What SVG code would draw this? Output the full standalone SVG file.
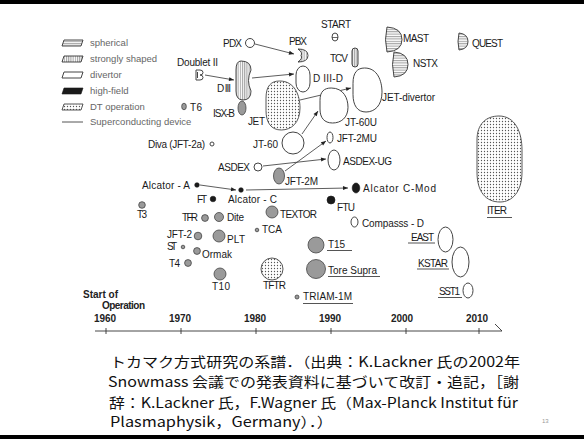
<svg xmlns="http://www.w3.org/2000/svg" width="584" height="439" viewBox="0 0 584 439">
<style>
.lb{font-family:"Liberation Sans",Arial,sans-serif;font-size:10px;fill:#1a1a1a}
.lg{font-family:"Liberation Sans",Arial,sans-serif;font-size:9.5px;fill:#666}
.yr{font-family:"Liberation Sans",Arial,sans-serif;font-size:10px;font-weight:bold;fill:#222;text-anchor:middle}
.cap{font-family:"Noto Sans CJK JP","Noto Sans",sans-serif;font-size:14px;fill:#111}
.gc{fill:#9a9a9a;stroke:#444;stroke-width:0.8}
.bk{fill:#1a1a1a;stroke:#1a1a1a;stroke-width:0.6}
.ol{fill:#fff;stroke:#444;stroke-width:1}
.hh{fill:url(#hh);stroke:#333;stroke-width:0.9}
.hv{fill:url(#hv);stroke:#333;stroke-width:0.9}
.dt{fill:url(#dots);stroke:#444;stroke-width:0.9}
.ul{stroke:#555;stroke-width:1}
.cn{stroke:#333;stroke-width:0.8;fill:none}
</style>
<defs>
<pattern id="hh" width="4" height="2.4" patternUnits="userSpaceOnUse"><rect width="4" height="2.4" fill="#fff"/><line x1="0" y1="0.6" x2="4" y2="0.6" stroke="#444" stroke-width="0.6"/></pattern>
<pattern id="hv" width="2.2" height="4" patternUnits="userSpaceOnUse"><rect width="2.2" height="4" fill="#fff"/><line x1="0.6" y1="0" x2="0.6" y2="4" stroke="#444" stroke-width="0.6"/></pattern>
<pattern id="dots" width="3" height="3" patternUnits="userSpaceOnUse"><rect width="3" height="3" fill="#fff"/><circle cx="1.5" cy="1.5" r="0.65" fill="#555"/></pattern>
<marker id="ah" viewBox="0 0 10 10" refX="10" refY="5" markerWidth="6" markerHeight="5" orient="auto" markerUnits="userSpaceOnUse"><path d="M0,1 L10,5 L0,9 Z" fill="#222"/></marker>
</defs>
<rect width="584" height="439" fill="#fff"/>
<rect x="0" y="0" width="584" height="4" fill="#000"/>
<rect x="0" y="435" width="584" height="4" fill="#000"/>

<g id="legend">
<polygon class="hh" points="64,40 83,40 81,46 62,46"/>
<text class="lg" x="90" y="46">spherical</text>
<polygon class="hv" points="64,56 83,56 81,62 62,62"/>
<text class="lg" x="90" y="62">strongly shaped</text>
<polygon class="ol" points="64,72 83,72 81,78 62,78"/>
<text class="lg" x="90" y="78">divertor</text>
<polygon class="bk" points="64,88 83,88 81,94 62,94"/>
<text class="lg" x="90" y="94">high-field</text>
<polygon class="dt" points="64,104 83,104 81,110 62,110"/>
<text class="lg" x="90" y="110">DT operation</text>
<line x1="62" y1="122" x2="83" y2="122" stroke="#555" stroke-width="1"/>
<text class="lg" x="90" y="125">Superconducting device</text>
</g>

<g id="connectors">
<line class="cn" x1="205" y1="75" x2="234" y2="80" marker-end="url(#ah)"/>
<line class="cn" x1="255" y1="44" x2="294" y2="54" marker-end="url(#ah)"/>
<line class="cn" x1="252" y1="78" x2="294" y2="74" marker-end="url(#ah)"/>
<line class="cn" x1="300" y1="100" x2="351" y2="88" marker-end="url(#ah)"/>
<line class="cn" x1="302" y1="134" x2="318" y2="111" marker-end="url(#ah)"/>
<line class="cn" x1="285" y1="171" x2="326" y2="141" marker-end="url(#ah)"/>
<line class="cn" x1="263" y1="166" x2="326" y2="159" marker-end="url(#ah)"/>
<line class="cn" x1="200" y1="185" x2="236" y2="190" marker-end="url(#ah)"/>
<line class="cn" x1="246" y1="190" x2="348" y2="188" marker-end="url(#ah)"/>
</g>

<g id="PDX"><circle class="ol" cx="250" cy="43" r="4.5"/><text class="lb" x="223" y="47" textLength="19">PDX</text></g>
<g id="PBX"><path class="hv" d="M298,49 Q308,49 308,55.5 Q308,62 298,62 Q303,58.5 301,55.5 Q303,52.5 298,49 Z"/><text class="lb" x="289" y="45" textLength="18">PBX</text></g>
<g id="START"><ellipse class="ol" cx="335" cy="37" rx="3" ry="4"/><line x1="332" y1="37.5" x2="338" y2="37.5" stroke="#444" stroke-width="0.8"/><text class="lb" x="321" y="28" textLength="30">START</text></g>
<g id="TCV"><rect class="hv" x="352" y="48" width="6" height="19" rx="3"/><text class="lb" x="330" y="62" textLength="18">TCV</text></g>
<g id="MAST"><path class="hh" d="M387,27 Q402,28 402,39.5 Q402,51 387,52 Q384,39.5 387,27 Z"/><text class="lb" x="403" y="42" textLength="26">MAST</text></g>
<g id="NSTX"><path class="hh" d="M394,52 Q408,53 408,64.5 Q408,76 394,77 Q391,64.5 394,52 Z"/><text class="lb" x="413" y="67" textLength="25">NSTX</text></g>
<g id="QUEST"><path class="hh" d="M459,33 Q468,34 468,41.5 Q468,49 459,50 Q457,41.5 459,33 Z"/><text class="lb" x="472" y="47" textLength="31">QUEST</text></g>
<g id="DoubletII"><path class="ol" d="M196,70 L200,70 Q203,70 203,72.5 Q203,75 200,75 Q203,75 203,77.5 Q203,80 200,80 L196,80 Z M197.5,72 L197.5,78"/><text class="lb" x="177" y="66" textLength="41">Doublet II</text></g>
<g id="DIII"><path class="hv" d="M241,61 Q251,61 251,70 Q246,80.5 251,91 Q251,100 243,100 Q236,100 236,91 L236,70 Q236,61 241,61 Z"/><text class="lb" x="217" y="92" textLength="14">D III</text></g>
<g id="DIII-D"><rect class="ol" x="296" y="66" width="14" height="26" rx="7" ry="9"/><text class="lb" x="313" y="82" textLength="30">D III-D</text></g>
<g id="T6"><ellipse class="gc" cx="184" cy="106.5" rx="2.3" ry="3.3"/><text class="lb" x="190" y="111" textLength="12">T6</text></g>
<g id="ISX-B"><ellipse class="gc" cx="242" cy="108" rx="4" ry="7"/><text class="lb" x="213" y="117" textLength="22">ISX-B</text></g>
<g id="JET"><path class="dt" d="M279.6,81 C294.9,81 300,95.7 300,107.95 C300,122.65 291.5,130 281.3,130 C271.1,130 266,122.65 266,110.4 L266,98.15 C266,85.9 271.1,81 279.6,81 Z"/><text class="lb" x="248" y="125" textLength="17">JET</text></g>
<g id="JET-divertor"><path class="ol" d="M364.6,68 C377.65,68 382,81.2 382,92.2 C382,105.4 374.75,112 366.05,112 C357.35,112 353,105.4 353,94.4 L353,83.4 C353,72.4 357.35,68 364.6,68 Z"/><text class="lb" x="382" y="101" textLength="53">JET-divertor</text></g>
<g id="JT-60U"><path class="ol" d="M331.2,88 C343.8,88 348,98.5 348,107.25 C348,117.75 341,123 332.6,123 C324.2,123 320,117.75 320,109 L320,100.25 C320,91.5 324.2,88 331.2,88 Z"/><text class="lb" x="345" y="126" textLength="32">JT-60U</text></g>
<g id="JT-60"><circle class="ol" cx="293" cy="143" r="11"/><text class="lb" x="253" y="148" textLength="25">JT-60</text></g>
<g id="Diva"><circle class="ol" cx="212" cy="144" r="2"/><text class="lb" x="148" y="148" textLength="57">Diva (JFT-2a)</text></g>
<g id="JFT-2MU"><ellipse class="ol" cx="330" cy="137.5" rx="3" ry="5.5"/><text class="lb" x="337" y="142" textLength="40">JFT-2MU</text></g>
<g id="ASDEX-UG"><ellipse class="ol" cx="334" cy="160" rx="6" ry="10"/><text class="lb" x="343" y="165" textLength="49">ASDEX-UG</text></g>
<g id="ASDEX"><circle class="ol" cx="258" cy="167" r="4"/><text class="lb" x="218" y="171" textLength="32">ASDEX</text></g>
<g id="JFT-2M"><ellipse class="gc" cx="279" cy="176" rx="5.5" ry="8"/><text class="lb" x="285" y="185" textLength="33">JFT-2M</text></g>
<g id="AlcatorA"><circle class="bk" cx="197" cy="185" r="2.3"/><text class="lb" x="142" y="189" textLength="48">Alcator - A</text></g>
<g id="AlcatorC"><circle class="bk" cx="241" cy="190" r="2.3"/><text class="lb" x="228" y="203" textLength="49">Alcator - C</text></g>
<g id="AlcatorCMod"><ellipse class="bk" cx="356" cy="188" rx="3.8" ry="5"/><text class="lb" x="363" y="192" textLength="73">Alcator C-Mod</text></g>
<g id="FT"><circle class="bk" cx="213" cy="199" r="2.8"/><text class="lb" x="197" y="203" textLength="10">FT</text></g>
<g id="FTU"><circle class="bk" cx="331" cy="200" r="4"/><text class="lb" x="337" y="211" textLength="18">FTU</text></g>
<g id="T3"><circle class="gc" cx="142" cy="205" r="3.3"/><text class="lb" x="137" y="218" textLength="10">T3</text></g>
<g id="TFR"><circle class="gc" cx="205" cy="218" r="3.4"/><text class="lb" x="182" y="221" textLength="16">TFR</text></g>
<g id="Dite"><circle class="gc" cx="219" cy="217" r="4.5"/><text class="lb" x="227" y="221" textLength="17">Dite</text></g>
<g id="TEXTOR"><circle class="gc" cx="272" cy="212" r="6"/><text class="lb" x="280" y="218" textLength="37">TEXTOR</text></g>
<g id="TCA"><circle class="gc" cx="257" cy="230" r="1.8"/><text class="lb" x="262" y="233" textLength="20">TCA</text></g>
<g id="CompassD"><ellipse class="ol" cx="354.5" cy="222" rx="3.5" ry="5"/><text class="lb" x="362" y="227" textLength="62">Compasss - D</text></g>
<g id="JFT-2"><circle class="gc" cx="198" cy="236" r="3.8"/><text class="lb" x="167" y="238" textLength="25">JFT-2</text></g>
<g id="PLT"><circle class="gc" cx="219" cy="236" r="6"/><text class="lb" x="227" y="243" textLength="18">PLT</text></g>
<g id="ST"><circle class="gc" cx="183" cy="247" r="1.8"/><text class="lb" x="167" y="250" textLength="10">ST</text></g>
<g id="Ormak"><circle class="gc" cx="197" cy="251" r="3.4"/><text class="lb" x="202" y="258" textLength="30">Ormak</text></g>
<g id="T4"><circle class="gc" cx="188" cy="263" r="3.4"/><text class="lb" x="169" y="267" textLength="11">T4</text></g>
<g id="T10"><circle class="gc" cx="220" cy="274" r="6"/><text class="lb" x="212" y="290" textLength="18">T10</text></g>
<g id="TFTR"><circle class="dt" cx="272" cy="269" r="11"/><text class="lb" x="263" y="289" textLength="23">TFTR</text></g>
<g id="T15"><circle class="gc" cx="316" cy="245" r="8"/><text class="lb" x="328" y="248" textLength="17">T15</text><line class="ul" x1="327" y1="250.5" x2="352" y2="250.5"/></g>
<g id="ToreSupra"><circle class="gc" cx="316" cy="269" r="9.5"/><text class="lb" x="328" y="274" textLength="49">Tore Supra</text><line class="ul" x1="328" y1="276.5" x2="380" y2="276.5"/></g>
<g id="TRIAM-1M"><circle class="gc" cx="297" cy="297" r="2"/><text class="lb" x="303" y="300" textLength="49">TRIAM-1M</text><line class="ul" x1="303" y1="303.5" x2="353" y2="303.5"/></g>
<g id="EAST"><ellipse class="ol" cx="445.5" cy="239.5" rx="7.5" ry="12.5"/><text class="lb" x="411" y="241" textLength="23">EAST</text><line class="ul" x1="408" y1="243" x2="435" y2="243"/></g>
<g id="KSTAR"><ellipse class="ol" cx="460.5" cy="262" rx="8.5" ry="15"/><text class="lb" x="418" y="267" textLength="30">KSTAR</text><line class="ul" x1="417" y1="269" x2="449" y2="269"/></g>
<g id="SST1"><ellipse class="ol" cx="468" cy="290.5" rx="5" ry="7.5"/><text class="lb" x="439" y="295" textLength="21">SST1</text><line class="ul" x1="438" y1="297.5" x2="462" y2="297.5"/></g>
<g id="ITER"><path class="dt" d="M499,116 C515,116 522,132 522,150 L522,172 C522,192 512,202 500,202 C486,202 477,192 477,172 L477,140 C477,124 486,116 499,116 Z"/><text class="lb" x="487" y="214" textLength="20">ITER</text><line class="ul" x1="487" y1="217.5" x2="512" y2="217.5"/></g>

<g id="axis">
<text x="83" y="298" font-family="Liberation Sans, Arial, sans-serif" font-size="10" font-weight="bold" fill="#222" textLength="35">Start of</text>
<text x="102" y="309" font-family="Liberation Sans, Arial, sans-serif" font-size="10" font-weight="bold" fill="#222" textLength="43">Operation</text>
<text class="yr" x="105" y="322">1960</text>
<text class="yr" x="180" y="322">1970</text>
<text class="yr" x="255" y="322">1980</text>
<text class="yr" x="330" y="322">1990</text>
<text class="yr" x="402" y="322">2000</text>
<text class="yr" x="477" y="322">2010</text>
<line x1="95" y1="331" x2="502" y2="331" stroke="#333" stroke-width="0.9"/>
<line x1="495" y1="324" x2="502" y2="331" stroke="#333" stroke-width="0.9"/>
<g stroke="#333" stroke-width="0.9">
<line x1="106" y1="328" x2="106" y2="334"/>
<line x1="181" y1="328" x2="181" y2="334"/>
<line x1="256" y1="328" x2="256" y2="334"/>
<line x1="331" y1="328" x2="331" y2="334"/>
<line x1="406" y1="328" x2="406" y2="334"/>
<line x1="479" y1="328" x2="479" y2="334"/>
</g>
</g>

<g id="caption">
<text class="cap" x="110" y="367" textLength="410" lengthAdjust="spacingAndGlyphs">トカマク方式研究の系譜．（出典：K.Lackner 氏の2002年</text>
<text class="cap" x="108" y="387" textLength="411" lengthAdjust="spacingAndGlyphs">Snowmass 会議での発表資料に基づいて改訂・追記，［謝</text>
<text class="cap" x="109" y="408" textLength="409" lengthAdjust="spacingAndGlyphs">辞：K.Lackner 氏，F.Wagner 氏（Max-Planck Institut für</text>
<text class="cap" x="110" y="427" textLength="223" lengthAdjust="spacingAndGlyphs">Plasmaphysik，Germany）．）</text>
<text x="542" y="423" font-family="Liberation Sans, Arial, sans-serif" font-size="6" fill="#999">13</text>
</g>
</svg>
